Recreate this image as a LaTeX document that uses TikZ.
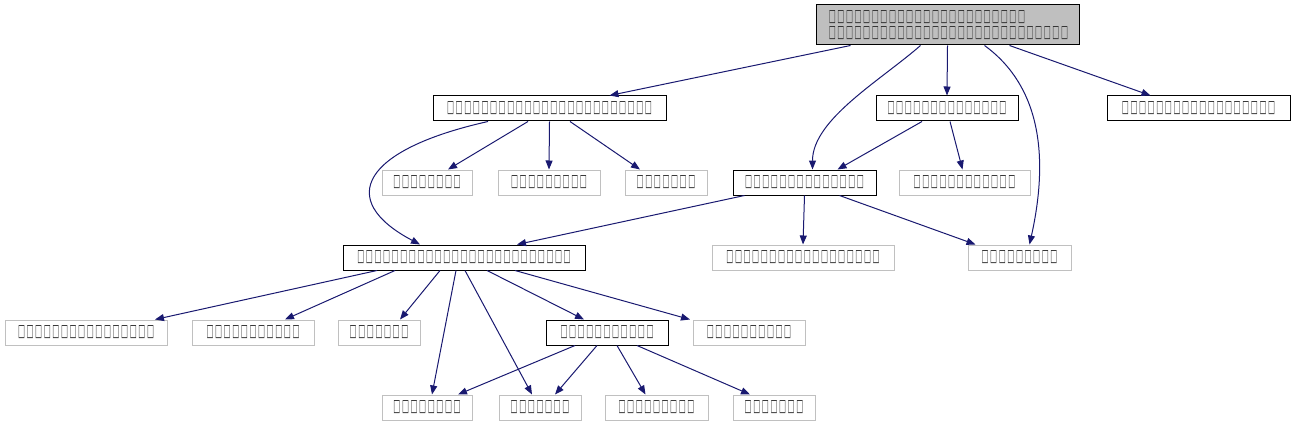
\documentclass[tikz,border=0pt]{standalone}
\usepackage{fontspec}
\usepackage{graphicx}
\newfontfamily\symfont{DejaVu Sans}
\usetikzlibrary{arrows.meta}
\definecolor{edgeblue}{HTML}{191970}
\definecolor{boxgray}{HTML}{BFBFBF}
\definecolor{linegray}{HTML}{C0C0C0}
\definecolor{glyphgray}{HTML}{303030}
\newcount\tfc
\newcommand\tofu[1]{\tfc=#1\relax\loop\makebox[8.6pt]{\resizebox{7pt}{11pt}{\symfont □}}\advance\tfc by -1 \ifnum\tfc>0 \repeat}
\tikzset{
  base/.style={draw, line width=1pt, inner sep=0pt, minimum height=25pt, text=glyphgray, font=\fontsize{12}{15.5}\selectfont},
  blk/.style={base, draw=black},
  gry/.style={base, draw=linegray},
  edge/.style={draw=edgeblue, line width=1pt, -{Triangle[length=9pt,width=7pt]}, fill=none},
}
\begin{document}
\begin{tikzpicture}[x=1pt,y=-1pt]
\useasboundingbox (0,0) rectangle (1295,425);
% nodes
\node[blk, fill=boxgray, minimum width=263pt, minimum height=40pt, text width=239pt, align=left] (n1) at (947.5,25) {\tofu{23}\\\tofu{28}};
\node[blk, minimum width=233pt] (n2) at (549.5,108.5) {\tofu{24}};
\node[blk, minimum width=142pt] (n3) at (947,108.5) {\tofu{14}};
\node[blk, minimum width=183pt] (n4) at (1198.5,108.5) {\tofu{18}};
\node[gry, minimum width=90pt] (n5) at (427,182.5) {\tofu{8}};
\node[gry, minimum width=102pt] (n6) at (549,182.5) {\tofu{9}};
\node[gry, minimum width=82pt] (n7) at (666,182.5) {\tofu{7}};
\node[blk, minimum width=143pt] (n8) at (804.5,182.5) {\tofu{14}};
\node[gry, minimum width=131pt] (n9) at (964.5,182.5) {\tofu{12}};
\node[blk, minimum width=242pt] (n10) at (464,257.5) {\tofu{25}};
\node[gry, minimum width=182pt] (n11) at (803,257.5) {\tofu{18}};
\node[gry, minimum width=103pt] (n12) at (1019.5,257.5) {\tofu{9}};
\node[gry, minimum width=162pt] (n13) at (86,332.5) {\tofu{16}};
\node[gry, minimum width=122pt] (n14) at (253,332.5) {\tofu{11}};
\node[gry, minimum width=82pt] (n15) at (379,332.5) {\tofu{7}};
\node[blk, minimum width=122pt] (n16) at (607,332.5) {\tofu{11}};
\node[gry, minimum width=112pt] (n17) at (749,332.5) {\tofu{10}};
\node[gry, minimum width=90pt] (n18) at (427,407.5) {\tofu{8}};
\node[gry, minimum width=82pt] (n19) at (540,407.5) {\tofu{7}};
\node[gry, minimum width=103pt] (n20) at (656.5,407.5) {\tofu{9}};
\node[gry, minimum width=82pt] (n21) at (774,407.5) {\tofu{7}};
% edges from n1
\draw[edge] ([xshift=-97pt]n1.south) -- ([xshift=60pt]n2.north);
\draw[edge] ([xshift=-27pt]n1.south) .. controls +(-40,35) and +(0,-50) .. ([xshift=8pt]n8.north);
\draw[edge] (n1.south) -- (n3.north);
\draw[edge] ([xshift=37pt]n1.south) .. controls +(55,40) and +(20,-90) .. ([xshift=10pt]n12.north);
\draw[edge] ([xshift=62pt]n1.south) -- ([xshift=-48pt]n4.north);
% edges from n2
\draw[edge] ([xshift=-21.5pt]n2.south) -- ([xshift=21pt]n5.north);
\draw[edge] (n2.south) -- (n6.north);
\draw[edge] ([xshift=20.5pt]n2.south) -- ([xshift=-26pt]n7.north);
\draw[edge] ([xshift=-61.5pt]n2.south) .. controls +(-125,28) and +(-85,-45) .. ([xshift=-44pt]n10.north);
% edges from n3
\draw[edge] ([xshift=-25pt]n3.south) -- ([xshift=33pt]n8.north);
\draw[edge] ([xshift=3pt]n3.south) -- ([xshift=-2pt]n9.north);
% edges from n8
\draw[edge] ([xshift=-60pt]n8.south) -- ([xshift=53pt]n10.north);
\draw[edge] (n8.south) -- (n11.north);
\draw[edge] ([xshift=35pt]n8.south) -- ([xshift=-44pt]n12.north);
% edges from n10
\draw[edge] ([xshift=-87pt]n10.south) -- ([xshift=69pt]n13.north);
\draw[edge] ([xshift=-69pt]n10.south) -- ([xshift=32pt]n14.north);
\draw[edge] ([xshift=-24pt]n10.south) -- ([xshift=21pt]n15.north);
\draw[edge] ([xshift=-8pt]n10.south) -- ([xshift=5pt]n18.north);
\draw[edge] ([xshift=1pt]n10.south) -- ([xshift=-8pt]n19.north);
\draw[edge] ([xshift=23pt]n10.south) -- ([xshift=-23pt]n16.north);
\draw[edge] ([xshift=51pt]n10.south) -- ([xshift=-59pt]n17.north);
% edges from n16
\draw[edge] ([xshift=-32pt]n16.south) -- ([xshift=31pt]n18.north);
\draw[edge] ([xshift=-10pt]n16.south) -- ([xshift=15pt]n19.north);
\draw[edge] ([xshift=10pt]n16.south) -- ([xshift=-11pt]n20.north);
\draw[edge] ([xshift=30pt]n16.south) -- ([xshift=-24pt]n21.north);
\end{tikzpicture}
\end{document}
